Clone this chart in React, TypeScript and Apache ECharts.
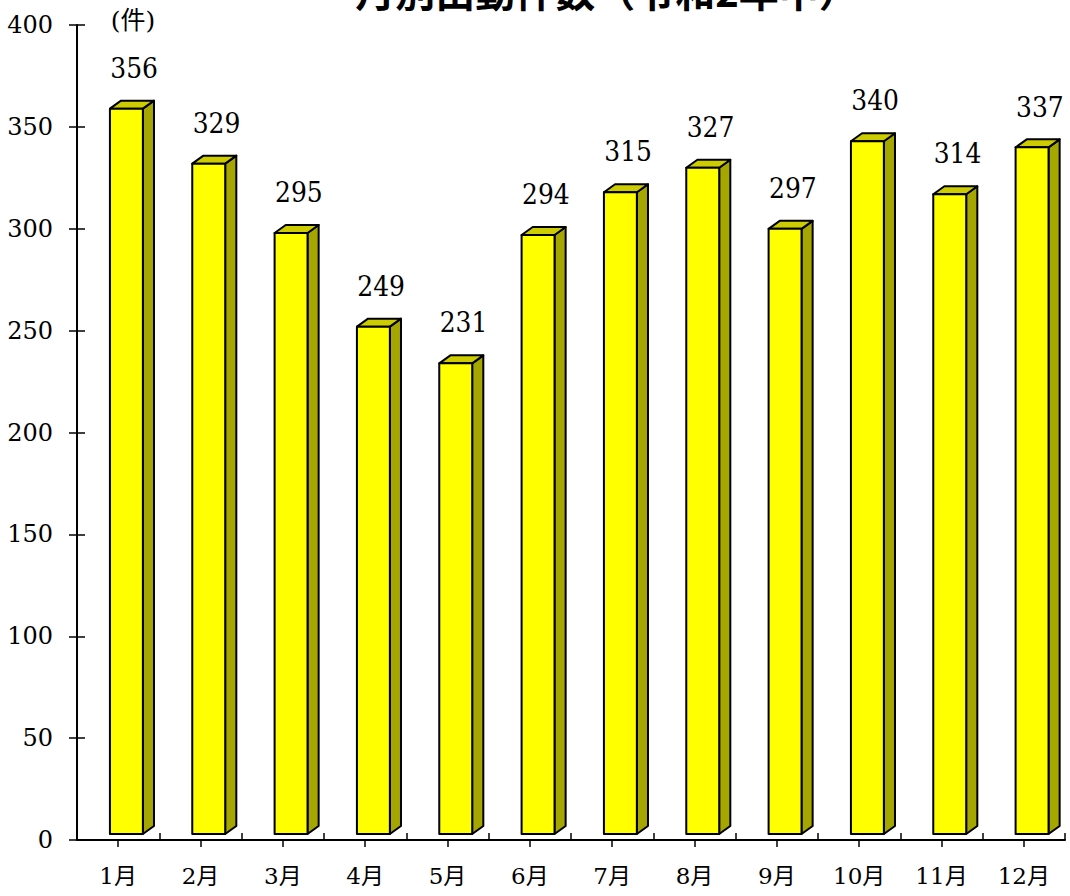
import React, { useEffect, useRef } from "react";
import * as echarts from "echarts";

const categories = ["1月", "2月", "3月", "4月", "5月", "6月", "7月", "8月", "9月", "10月", "11月", "12月"];
const counts = [356, 329, 295, 249, 231, 294, 315, 327, 297, 340, 314, 337];
const yTicks = { min: 0, max: 400, interval: 50 };
const titleText = "月別出動件数（令和2年中）";
const unitText = "(件)";

const SERIF = "DejaVu Serif, Noto Sans CJK JP";

export default function App() {
  const ref = useRef<HTMLDivElement>(null);
  useEffect(() => {
    if (!ref.current) return;
    const chart = echarts.init(ref.current, null, { renderer: "svg" });
    const option: any = {
      animation: false,
      backgroundColor: "#ffffff",
      grid: { left: 77, right: 5, top: 25, bottom: 56, containLabel: false },
      graphic: [
        {
          type: "text",
          x: 607,
          y: -10,
          style: {
            text: titleText,
            textAlign: "center",
            textVerticalAlign: "middle",
            fontSize: 40,
            fontWeight: "bold",
            fontFamily: "Noto Sans CJK JP, sans-serif",
            fill: "#000",
          },
        },
        {
          type: "text",
          x: 133,
          y: 20,
          style: {
            text: unitText,
            textAlign: "center",
            textVerticalAlign: "middle",
            fontSize: 25,
            fontFamily: SERIF,
            fill: "#000",
          },
        },
      ],
      xAxis: [
        {
          type: "category",
          data: categories,
          boundaryGap: true,
          position: "bottom",
          axisLine: { show: true, lineStyle: { color: "#000", width: 2 } },
          axisTick: { show: true, alignWithLabel: true, inside: false, length: 7, lineStyle: { color: "#000", width: 1.5 } },
          axisLabel: { color: "#000", fontSize: 23, fontFamily: SERIF, margin: 24 },
        },
        {
          type: "category",
          data: categories,
          boundaryGap: true,
          position: "bottom",
          axisLine: { show: false },
          axisTick: { show: true, alignWithLabel: false, inside: true, length: 7, lineStyle: { color: "#000", width: 1.5 } },
          axisLabel: { show: false },
        },
      ],
      yAxis: [
        {
          type: "value",
          min: yTicks.min,
          max: yTicks.max,
          interval: yTicks.interval,
          splitLine: { show: false },
          axisLine: { show: true, lineStyle: { color: "#000", width: 2 } },
          axisTick: { show: true, inside: false, length: 8, lineStyle: { color: "#000", width: 1.5 } },
          axisLabel: { color: "#000", fontSize: 24, fontFamily: SERIF, margin: 24 },
        },
        {
          type: "value",
          min: yTicks.min,
          max: yTicks.max,
          interval: yTicks.interval,
          position: "left",
          splitLine: { show: false },
          axisLine: { show: false },
          axisTick: { show: true, inside: true, length: 8, lineStyle: { color: "#000", width: 1.5 } },
          axisLabel: { show: false },
        },
      ],
      series: [
        {
          type: "custom",
          xAxisIndex: 0,
          yAxisIndex: 0,
          data: counts.map((v, i) => [i, v]),
          encode: { x: 0, y: 1 },
          renderItem: (params: any, api: any) => {
            const idx = api.value(0);
            const v = api.value(1);
            const top = api.coord([idx, v]);
            const base = api.coord([idx, 0]);
            const band = api.size([1, 0])[0];
            const w = band * 0.4;
            const lift = 6;
            const dx = band * 0.135;
            const dy = 8;
            const x0 = top[0] - band * 0.1;
            const x1 = x0 + w;
            const yT = top[1] - lift;
            const yB = base[1] - lift;
            const stroke = { stroke: "#000", lineWidth: 2, lineJoin: "round" };
            return {
              type: "group",
              children: [
                {
                  type: "polygon",
                  shape: { points: [[x1, yT], [x1 + dx, yT - dy], [x1 + dx, yB - dy], [x1, yB]] },
                  style: { fill: "#a6a600", ...stroke },
                },
                {
                  type: "polygon",
                  shape: { points: [[x0, yT], [x0 + dx, yT - dy], [x1 + dx, yT - dy], [x1, yT]] },
                  style: { fill: "#cccc00", ...stroke },
                },
                {
                  type: "rect",
                  shape: { x: x0, y: yT, width: w, height: yB - yT },
                  style: { fill: "#ffff00", ...stroke },
                },
                {
                  type: "text",
                  x: top[0] + 16,
                  y: yT - 41,
                  scaleY: 1.15,
                  style: {
                    text: String(v),
                    textAlign: "center",
                    textVerticalAlign: "middle",
                    fontSize: 25,
                    fontFamily: SERIF,
                    fill: "#000",
                  },
                },
              ],
            };
          },
        },
      ],
    };
    chart.setOption(option);
    return () => chart.dispose();
  }, []);
  return (
    <div
      ref={ref}
      style={{ position: "fixed", left: 0, top: 0, width: 1070, height: 896, background: "#fff" }}
    />
  );
}
